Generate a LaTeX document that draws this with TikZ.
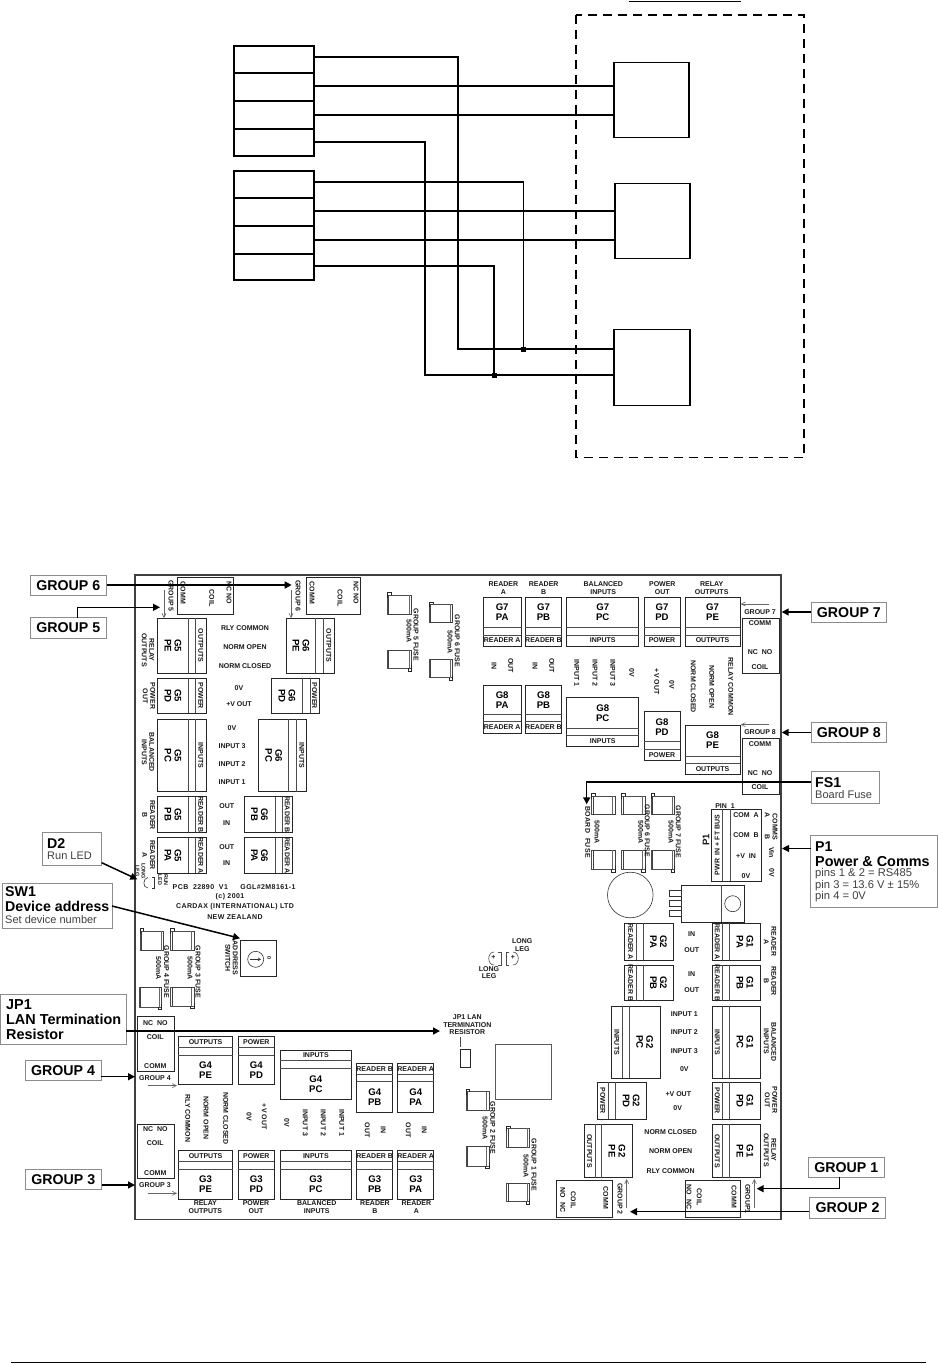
\documentclass[tikz,border=0pt]{standalone}
\usepackage{fontspec}
\setmainfont{Liberation Sans}
\newfontfamily\widefont[LetterSpace=6]{Liberation Sans}
\usetikzlibrary{arrows.meta}
\newcount\lbc
\tikzset{
  wire/.style={line width=1.1pt,black},
  wbox/.style={draw=black,line width=1.1pt,inner sep=0pt,outer sep=0pt,fill=white},
  lab/.style={inner sep=0pt,outer sep=0pt,align=center,font=\fontsize{7}{7.6}\selectfont\bfseries,text=black!90},
  rv/.style={rotate=-90},
  ru/.style={rotate=90},
  tiny/.style={font=\fontsize{5.4}{5.8}\selectfont\bfseries},
  mainlab/.style={font=\fontsize{9.6}{10}\selectfont\bfseries,text=black},
  blk/.style={draw=black!85,line width=.8pt},
  blkd/.style={draw=black!70,line width=.7pt},
  thin/.style={draw=black!60,line width=.6pt,-{Straight Barb[length=4pt,width=4pt]}},
  arr/.style={draw=black,line width=1.5pt,-{Triangle[length=7pt,width=7pt]}},
  callout/.style={draw=black!45,line width=.8pt,fill=white,inner sep=0pt,outer sep=0pt,font=\fontsize{14.2}{15}\selectfont\bfseries},
  cbig/.style={inner sep=0pt,anchor=west,font=\fontsize{14.2}{15}\selectfont\bfseries},
  creg/.style={inner sep=0pt,anchor=west,font=\fontsize{11}{12}\selectfont,text=black!75},
}
\newcommand\Lb[4][]{\global\advance\lbc by 1 \node[lab,name=t\the\lbc,#1] at (#2,#3) {#4};}
% main left, small right, rotated text
\newcommand\BlkVL[8]{\draw[blk] (#1,#2) rectangle (#3,#4);\draw[blkd] (#5,#2)--(#5,#4) (#6,#2)--(#6,#4);
  \Lb[rv,mainlab]{{(#1+#5)/2}}{{(#2+#4)/2}}{#7}\Lb[rv]{{(#6+#3)/2}}{{(#2+#4)/2}}{#8}}
% small left, main right
\newcommand\BlkVR[8]{\draw[blk] (#1,#2) rectangle (#3,#4);\draw[blkd] (#5,#2)--(#5,#4) (#6,#2)--(#6,#4);
  \Lb[rv,mainlab]{{(#6+#3)/2}}{{(#2+#4)/2}}{#7}\Lb[rv]{{(#1+#5)/2}}{{(#2+#4)/2}}{#8}}
% main top, small bottom
\newcommand\BlkHT[8]{\draw[blk] (#1,#2) rectangle (#3,#4);\draw[blkd] (#1,#5)--(#3,#5) (#1,#6)--(#3,#6);
  \Lb[mainlab]{{(#1+#3)/2}}{{(#2+#5)/2}}{#7}\Lb{{(#1+#3)/2}}{{(#6+#4)/2}}{#8}}
% small top, main bottom
\newcommand\BlkHB[8]{\draw[blk] (#1,#2) rectangle (#3,#4);\draw[blkd] (#1,#5)--(#3,#5) (#1,#6)--(#3,#6);
  \Lb[mainlab]{{(#1+#3)/2}}{{(#6+#4)/2}}{#7}\Lb{{(#1+#3)/2}}{{(#2+#5)/2}}{#8}}
\newcommand\FuseT[4]{\draw[blkd,line width=.6pt] (#1,#2) rectangle (#3,#4);
  \draw[black!75,line width=.8pt] ({#1+1.5},#2)--({#1+1.5},#4)--(#3,#4)--(#3,#2);
  \draw[black!60,line width=.5pt] ({#3-2.5},#2)--({#3-2.5},#4);
  \draw[black!85,line width=.6pt] (#1,{#2+3})--(#1,{#2-2.5})--({#1+3.5},{#2-2.5})--({#1+3.5},#2);}
\newcommand\FuseB[4]{\draw[blkd,line width=.6pt] (#1,#2) rectangle (#3,#4);
  \draw[black!75,line width=.8pt] ({#1+1.5},#4)--({#1+1.5},#2)--(#3,#2)--(#3,#4);
  \draw[black!60,line width=.5pt] ({#3-2.5},#2)--({#3-2.5},#4);
  \draw[black!85,line width=.6pt] (#3,{#4-3})--(#3,{#4+2.5})--({#3-3.5},{#4+2.5})--({#3-3.5},#4);}
\newcommand\Call[6]{\node[callout,minimum width={(#4-#2)*1pt},minimum height={(#5-#3)*1pt}] (#1) at ({(#2+#4)/2},{(#3+#5)/2}) {#6};}
\begin{document}
\begin{tikzpicture}[x=1pt,y=-1pt]
\useasboundingbox (0,0) rectangle (937,1364);
\fill[white] (0,0) rectangle (937,1364);
%% ---------- upper wiring diagram ----------
\coordinate (tl) at (629,1.5); \coordinate (tr) at (741,1.5);
\draw[line width=1.5pt] (tl)--(tr);
\draw[wire,dash pattern=on 9pt off 6pt] (576,15) rectangle (804,457.5);
\node[wbox,minimum width=80pt,minimum height=110pt] (a) at (274,101) {};
\node[wbox,minimum width=80pt,minimum height=109pt] (b) at (274,225.5) {};
\node[wbox,minimum width=75pt,minimum height=74.5pt] (ra) at (651.5,100) {};
\node[wbox,minimum width=75pt,minimum height=75pt] (rb) at (652.5,221) {};
\node[wbox,minimum width=76pt,minimum height=75.5pt] (rc) at (652,367.5) {};
\foreach \yy in {73,101,129} \draw[wire] (a.west |- 0,\yy)--(a.east |- 0,\yy);
\foreach \yy in {198,226,254} \draw[wire] (b.west |- 0,\yy)--(b.east |- 0,\yy);
\node[fill=black,minimum size=5pt,inner sep=0pt] (j1) at (523.5,349) {};
\node[fill=black,minimum size=5pt,inner sep=0pt] (j2) at (494,375) {};
\draw[wire] (a.east |- 0,57) -| (458,349) -- (rc.west |- 0,349);
\draw[wire] (a.east |- 0,86) -- (ra.west |- 0,86);
\draw[wire] (a.east |- 0,115) -- (ra.west |- 0,115);
\draw[wire] (a.east |- 0,142) -| (425,375) -- (rc.west |- 0,375);
\draw[wire] (b.east |- 0,182) -| (j1.center);
\draw[wire] (b.east |- 0,211) -- (rb.west |- 0,211);
\draw[wire] (b.east |- 0,240) -- (rb.west |- 0,240);
\draw[wire] (b.east |- 0,266) -| (j2.center);
%% ---------- board frame ----------
\draw[draw=black!75,line width=1.2pt] (135,575) rectangle (781,1219.3);
%% left column G5 / G6
\BlkVL{157.7}{618}{206}{673}{188.3}{195.7}{G5\\PE}{OUTPUTS}
\BlkVL{286}{618}{334.3}{673}{315.7}{323.3}{G6\\PE}{OUTPUTS}
\BlkVL{157.7}{678.3}{206}{713.3}{188.3}{195.7}{G5\\PD}{POWER}
\BlkVL{271.7}{678.3}{319.3}{713.3}{302.3}{310}{G6\\PD}{POWER}
\BlkVL{157.7}{719.3}{206}{791.7}{188.3}{195.7}{G5\\PC}{INPUTS}
\BlkVL{258.7}{719.3}{306.7}{791.7}{288.7}{296.7}{G6\\PC}{INPUTS}
\BlkVL{157.7}{796.7}{206}{832.3}{188.3}{195.7}{G5\\PB}{READER B}
\BlkVL{244}{796.7}{292.3}{832.3}{275}{282.3}{G6\\PB}{READER B}
\BlkVL{157.7}{837.7}{206}{873.3}{188.3}{195.7}{G5\\PA}{READER A}
\BlkVL{244}{837.7}{292.3}{873.3}{275}{282.3}{G6\\PA}{READER A}
\Lb[rv]{148}{650}{RELAY\\OUTPUTS}
\Lb[rv]{149}{696}{POWER\\OUT}
\Lb[rv]{148}{752.3}{BALANCED\\INPUTS}
\Lb[rv]{148.7}{815}{READER\\B}
\Lb[rv]{148.7}{855}{READER\\A}
\Lb{245}{628.3}{RLY COMMON}\Lb{245}{647}{NORM OPEN}\Lb{245}{666}{NORM CLOSED}
\Lb{239}{688.3}{0V}\Lb{239}{704}{+V OUT}
\Lb{232}{728.3}{0V}\Lb{232}{746}{INPUT 3}\Lb{232}{764.3}{INPUT 2}\Lb{232}{782.3}{INPUT 1}
\Lb{226.7}{806}{OUT}\Lb{226.7}{822.7}{IN}\Lb{226.7}{847}{OUT}\Lb{226.7}{863.3}{IN}
%% comm boxes top
\draw[blk] (177.7,577.3) rectangle (233.3,614.3);
\draw[blk] (306,577.3) rectangle (360,614.3);
\Lb[rv]{183}{593}{COMM}\Lb[rv]{211.7}{598}{COIL}\Lb[rv]{229}{593}{NC NO}
\Lb[rv]{312}{593}{COMM}\Lb[rv]{340}{598}{COIL}\Lb[rv]{356}{593}{NC NO}
\Lb[rv]{171}{596}{GROUP 5}\Lb[rv]{298}{596}{GROUP 6}
\coordinate (th5a) at (164,590);\coordinate (th5b) at (164,618);\draw[thin] (th5a)--(th5b);
\coordinate (th6a) at (291,590);\coordinate (th6b) at (291,618);\draw[thin] (th6a)--(th6b);
%% PCB text
\Lb{200.3}{886.7}{\widefont PCB\ \ 22890\ \ V1}\Lb{268}{886.7}{\widefont GGL\#2M8161-1}
\Lb{230}{896.5}{\widefont (c) 2001}
\Lb{235}{906.7}{\widefont CARDAX (INTERNATIONAL) LTD}\Lb{235}{917}{\widefont NEW ZEALAND}
\Lb[rv,tiny]{163}{880}{RUN\\LED}
\Lb[rv,tiny]{140.5}{871}{LONG\\LEG}
\draw[black!80,line width=.6pt] (148,877.5)..controls (143,877.5) and (142,888)..(148,888);
\draw[black!80,line width=.6pt] (152,877.5)--(154,877.5)--(154,888)--(152,888);
%% address switch
\draw[blk] (240,940) rectangle (276.7,976);
\draw[black!80,line width=.6pt] (255.7,959.3) circle (8);
\draw[black!80,line width=.6pt,-{Straight Barb[length=2.5pt,width=3pt]}] (250,959.3)--(261,959.3);
\Lb[rv,tiny]{269.3}{958}{0}
\Lb[rv]{231.5}{958}{ADDRESS\\SWITCH}
%% fuses left
\FuseT{140}{931}{163.3}{950.7}\FuseB{139}{987.7}{161.7}{1007}
\FuseT{170.7}{931}{194}{950.7}\FuseB{170.7}{987.7}{194}{1006}
\Lb[rv]{166.5}{972}{GROUP 4 FUSE}\Lb[rv]{158.5}{968}{500mA}
\Lb[rv]{198}{972}{GROUP 3 FUSE}\Lb[rv]{190}{968}{500mA}
%% fuses top centre
\FuseT{387.3}{595}{411.3}{614.3}\FuseB{387.3}{650}{411.3}{668.3}
\FuseT{429.3}{604.3}{452.7}{622.3}\FuseB{429.3}{659.3}{452.7}{677.7}
\Lb[rv]{416}{634.7}{GROUP 5 FUSE}\Lb[rv]{409}{631}{500mA}
\Lb[rv]{457.3}{641}{GROUP 6 FUSE}\Lb[rv]{450}{642}{500mA}
%% G7 / G8
\BlkHT{483.3}{597.3}{521}{646}{627.7}{635}{G7\\PA}{READER A}
\BlkHT{525.3}{597.3}{561.7}{646}{627.7}{635}{G7\\PB}{READER B}
\BlkHT{566.7}{597.3}{638.7}{646}{627.7}{635}{G7\\PC}{INPUTS}
\BlkHT{644}{597.3}{680}{646}{627.7}{635}{G7\\PD}{POWER}
\BlkHT{685}{597.3}{740}{646}{627.7}{635}{G7\\PE}{OUTPUTS}
\BlkHT{483.3}{685}{521}{733.3}{714.3}{721.7}{G8\\PA}{READER A}
\BlkHT{525.3}{685}{561.7}{733.3}{714.3}{721.7}{G8\\PB}{READER B}
\BlkHT{566.7}{697.7}{638.7}{746.7}{728.3}{735.7}{G8\\PC}{INPUTS}
\BlkHT{644}{711.7}{680}{760}{741.7}{749.3}{G8\\PD}{POWER}
\BlkHT{685}{725}{740}{774}{756}{763.3}{G8\\PE}{OUTPUTS}
\Lb{503.3}{588}{READER\\A}\Lb{543.7}{588}{READER\\B}\Lb{603.3}{588}{BALANCED\\INPUTS}
\Lb{662.3}{588}{POWER\\OUT}\Lb{711.7}{588}{RELAY\\OUTPUTS}
\Lb[rv]{494}{665.7}{IN}\Lb[rv]{510.7}{665.7}{OUT}\Lb[rv]{535}{665.7}{IN}\Lb[rv]{551.7}{665.7}{OUT}
\Lb[rv]{576.7}{673}{INPUT 1}\Lb[rv]{595}{673}{INPUT 2}\Lb[rv]{612.7}{673}{INPUT 3}\Lb[rv]{631.7}{673}{0V}
\Lb[rv]{656.7}{681.7}{+V OUT}\Lb[rv]{671.7}{685}{0V}
\Lb[rv]{693.3}{686.7}{NORM CLOSED}\Lb[rv]{711.7}{686.7}{NORM OPEN}\Lb[rv]{730.7}{686.7}{RELAY COMMON}
\draw[blk] (742.3,618.3) rectangle (779,673);
\Lb{760}{623}{COMM}\Lb{760}{651.7}{NC\ \ NO}\Lb{760}{666.7}{COIL}
\draw[blk] (742.3,738.3) rectangle (779,794.3);
\Lb{760}{744.3}{COMM}\Lb{760}{772.7}{NC\ \ NO}\Lb{760}{786.7}{COIL}
\Lb{760}{611.7}{GROUP 7}\Lb{760}{732}{GROUP 8}
\coordinate (th7a) at (769,604);\coordinate (th7b) at (740.7,604);\draw[thin] (th7a)--(th7b);
\coordinate (th8a) at (769,724.7);\coordinate (th8b) at (740.7,724.7);\draw[thin] (th8a)--(th8b);
%% board fuses
\foreach \xa/\xb in {591.7/615,621.7/645,651/674.3} {\FuseT{\xa}{796}{\xb}{814.3}\FuseB{\xa}{850}{\xb}{869.3}}
\Lb[rv]{587.7}{832}{\widefont BOARD\ \ FUSE}\Lb[rv]{597}{832}{500mA}
\Lb[rv]{647.3}{831}{GROUP 6 FUSE}\Lb[rv]{640.7}{832}{500mA}
\Lb[rv]{678.3}{832}{GROUP 7 FUSE}\Lb[rv]{671}{832}{500mA}
\draw[black!80,line width=.6pt] (630.3,895) circle (22.8);
%% regulator
\draw[blk,line width=.7pt] (681,885) rectangle (744.3,922.3);
\draw[blkd] (721,885)--(721,922.3);
\draw[black!80,line width=.6pt] (732.7,903.7) circle (8);
\foreach \yy in {890.7,900.7,910.7} \draw[black!80,line width=.6pt] (681,\yy) rectangle (669,{\yy+6});
%% P1
\draw[blk] (711.7,809.3) rectangle (761.7,881);
\draw[blkd] (722.3,809.3)--(722.3,881) (730,809.3)--(730,881);
\Lb[ru]{717.3}{845}{PWR\ \ IN + FT BUS}
\Lb[ru,font=\fontsize{9.6}{10}\selectfont\bfseries]{706}{840}{P1}
\Lb{725}{805.7}{PIN\ \ 1}
\Lb{746}{815}{COM\ \ A}\Lb{746}{835}{COM\ \ B}\Lb{746}{855.7}{+V\ \ IN}\Lb{746}{876}{0V}
\Lb[rv]{775}{827}{COMMS}\Lb[rv]{767.3}{815}{A}\Lb[rv]{767.3}{837}{B}
\Lb[rv]{771.7}{852.7}{Vin}\Lb[rv]{771.7}{872.7}{0V}
%% bottom left group
\draw[blk] (137.3,1016.7) rectangle (174,1071.7);
\Lb{155.3}{1022.7}{NC\ \ NO}\Lb{155.3}{1036.7}{COIL}\Lb{155.3}{1065.7}{COMM}
\Lb{155}{1078.3}{GROUP 4}
\coordinate (th4a) at (148,1085.7);\coordinate (th4b) at (177,1085.7);\draw[thin] (th4a)--(th4b);
\draw[blk] (137.3,1124.3) rectangle (174,1178.3);
\Lb{155.3}{1129}{NC\ \ NO}\Lb{155.3}{1143.3}{COIL}\Lb{155.3}{1173.3}{COMM}
\Lb{155}{1185}{GROUP 3}
\coordinate (th3a) at (148,1193.3);\coordinate (th3b) at (177,1193.3);\draw[thin] (th3a)--(th3b);
\BlkHB{178.3}{1036.7}{232.7}{1084.3}{1047.3}{1055}{G4\\PE}{OUTPUTS}
\BlkHB{238.3}{1036.7}{274.3}{1084.3}{1047.3}{1055}{G4\\PD}{POWER}
\BlkHB{280}{1050}{351.7}{1099.3}{1060.7}{1068.3}{G4\\PC}{INPUTS}
\BlkHB{356.7}{1063.3}{392.7}{1112.3}{1074}{1081.7}{G4\\PB}{READER B}
\BlkHB{397.7}{1063.3}{433.7}{1112.3}{1074}{1081.7}{G4\\PA}{READER A}
\BlkHB{178.3}{1150.7}{232.7}{1199}{1161.7}{1169.3}{G3\\PE}{OUTPUTS}
\BlkHB{238.3}{1150.7}{274.3}{1199}{1161.7}{1169.3}{G3\\PD}{POWER}
\BlkHB{280}{1150.7}{351.7}{1199}{1161.7}{1169.3}{G3\\PC}{INPUTS}
\BlkHB{356.7}{1150.7}{392.7}{1199}{1161.7}{1169.3}{G3\\PB}{READER B}
\BlkHB{397.7}{1150.7}{433.7}{1199}{1161.7}{1169.3}{G3\\PA}{READER A}
\Lb{205.3}{1207.3}{RELAY\\OUTPUTS}\Lb{256}{1207.3}{POWER\\OUT}\Lb{316.7}{1207.3}{BALANCED\\INPUTS}
\Lb{375}{1207.3}{READER\\B}\Lb{416.3}{1207.3}{READER\\A}
\Lb[rv]{187.7}{1118.3}{RLY COMMON}\Lb[rv]{206}{1118}{NORM OPEN}\Lb[rv]{225.7}{1118.3}{NORM CLOSED}
\Lb[rv]{249}{1116.7}{0V}\Lb[rv]{264.3}{1116.7}{+V OUT}
\Lb[rv]{286.7}{1122.7}{0V}\Lb[rv]{305.3}{1122.7}{INPUT 3}\Lb[rv]{323.3}{1122.7}{INPUT 2}\Lb[rv]{341.7}{1122.7}{INPUT 1}
\Lb[rv]{367.3}{1130}{OUT}\Lb[rv]{383.3}{1130}{IN}\Lb[rv]{408.3}{1130}{OUT}\Lb[rv]{424.3}{1130}{IN}
%% centre
\Lb{467.3}{1017.3}{JP1 LAN}\Lb{467.3}{1025}{TERMINATION}\Lb{467.3}{1032.3}{RESISTOR}
\draw[black!70,line width=.6pt] (460.7,1036.7)--(460.7,1047);
\draw[blk] (460.7,1049) rectangle (470.7,1067.7);
\draw[black!65,line width=.7pt] (495.7,1044) rectangle (551.3,1099.3);
\FuseT{466}{1091.7}{489}{1110.7}\FuseB{466}{1146.7}{489}{1166}
\FuseT{506.7}{1128.3}{529.3}{1147.7}\FuseB{506.7}{1183.3}{529.3}{1201.7}
\Lb[rv]{492.7}{1128}{GROUP 2 FUSE}\Lb[rv]{485}{1128}{500mA}
\Lb[rv]{534}{1165}{GROUP 1 FUSE}\Lb[rv]{526}{1166}{500mA}
\Lb{522.3}{945}{LONG\\LEG}\Lb{489}{972.7}{LONG\\LEG}
\draw[black!70,line width=.6pt] (494,952)..controls (487,952) and (487,965)..(494,965);
\draw[black!70,line width=.6pt] (498,952)--(501,952)--(501,965)--(498,965);
\draw[black!70,line width=.6pt] (513,952)..controls (520,952) and (520,965)..(513,965);
\draw[black!70,line width=.6pt] (509,952)--(506,952)--(506,965)--(509,965);
\Lb{493.5}{957}{+}\Lb{513}{957}{+}
%% right column G2 / G1
\BlkVR{624.3}{923.3}{673.3}{960}{636.7}{643.7}{G2\\PA}{READER A}
\BlkVR{624.3}{965}{673.3}{1000.7}{636.7}{643.7}{G2\\PB}{READER B}
\BlkVR{611.3}{1006}{660}{1078.3}{622.3}{629.3}{G2\\PC}{INPUTS}
\BlkVR{597.3}{1082.3}{646.7}{1119.3}{608.3}{615.7}{G2\\PD}{POWER}
\BlkVR{584.3}{1124.3}{632.3}{1177.7}{595}{601.7}{G2\\PE}{OUTPUTS}
\BlkVR{712.3}{923.3}{760.7}{960}{722.3}{729.3}{G1\\PA}{READER A}
\BlkVR{712.3}{965}{760.7}{1000.7}{722.3}{729.3}{G1\\PB}{READER B}
\BlkVR{712.3}{1006}{760.7}{1078.3}{722.3}{729.3}{G1\\PC}{INPUTS}
\BlkVR{712.3}{1082.3}{760.7}{1119.3}{722.3}{729.3}{G1\\PD}{POWER}
\BlkVR{712.3}{1124.3}{760.7}{1177.7}{722.3}{729.3}{G1\\PE}{OUTPUTS}
\Lb[rv]{770}{941.7}{READER\\A}\Lb[rv]{770}{981}{READER\\B}\Lb[rv]{770}{1041.7}{BALANCED\\INPUTS}
\Lb[rv]{771}{1100}{POWER\\OUT}\Lb[rv]{770}{1150}{RELAY\\OUTPUTS}
\Lb{691.7}{933.7}{IN}\Lb{691.7}{950}{OUT}\Lb{691.7}{974}{IN}\Lb{691.7}{990.3}{OUT}
\Lb{684.3}{1014}{INPUT 1}\Lb{684.3}{1032.3}{INPUT 2}\Lb{684.3}{1050.7}{INPUT 3}\Lb{684.3}{1069}{0V}
\Lb{678.3}{1094}{+V OUT}\Lb{677.7}{1108.3}{0V}
\Lb{670.7}{1131.7}{NORM CLOSED}\Lb{670.7}{1151}{NORM OPEN}\Lb{670.7}{1170.7}{RLY COMMON}
\draw[blk] (556.7,1180) rectangle (612.7,1217.7);
\Lb[rv]{605.7}{1198}{COMM}\Lb[rv]{573.3}{1200}{COIL}\Lb[rv]{562.7}{1200}{NO\ \ NC}
\Lb[rv]{620}{1199}{GROUP 2}
\coordinate (th2a) at (626.7,1208);\coordinate (th2b) at (626.7,1179);\draw[thin] (th2a)--(th2b);
\draw[blk] (685,1180) rectangle (740,1217.7);
\Lb[rv]{734}{1197}{COMM}\Lb[rv]{699.3}{1197}{COIL}\Lb[rv]{689}{1197}{NO\ \ NC}
\Lb[rv]{747.7}{1199}{GROUP1}
\coordinate (th1a) at (754.3,1208);\coordinate (th1b) at (754.3,1179);\draw[thin] (th1a)--(th1b);
%% ---------- callouts ----------
\Call{g6}{30}{575}{106.7}{595.7}{GROUP 6}
\Call{g5}{30}{617.7}{106.7}{638.3}{GROUP 5}
\Call{g7}{811}{602.3}{886.7}{622.3}{GROUP 7}
\Call{g8}{811}{722.3}{886.7}{742.7}{GROUP 8}
\Call{g4}{25}{1060.7}{101}{1080.7}{GROUP 4}
\Call{g3}{25}{1169.3}{101.5}{1189.3}{GROUP 3}
\Call{g1}{808.3}{1157.3}{884.3}{1177.3}{GROUP 1}
\Call{g2}{809.3}{1197.7}{885.7}{1218.3}{GROUP 2}
\Call{fs}{811}{771.7}{879.3}{803.7}{}
\Call{pp}{810.7}{835}{937}{907.7}{}
\Call{d2}{42.7}{832.7}{101.7}{865}{}
\Call{sw}{2.7}{883.3}{112}{928.7}{}
\Call{jp}{0.5}{994}{126}{1044}{}
\node[cbig] (fs1t) at (815,782.3) {FS1};
\node[creg] (fs2t) at (815,795) {Board Fuse};
\node[cbig] (p1t) at (815,846.5) {P1};
\node[cbig,font=\fontsize{14.4}{15}\selectfont\bfseries] (p2t) at (815,861.5) {Power \& Comms};
\node[creg,font=\fontsize{11.2}{12}\selectfont] (p3t) at (815,873.5) {pins 1 \& 2 = RS485};
\node[creg,font=\fontsize{11.2}{12}\selectfont] (p4t) at (815,885.5) {pin 3 = 13.6 V ± 15\%};
\node[creg,font=\fontsize{11.2}{12}\selectfont] (p5t) at (815,897) {pin 4 = 0V};
\node[cbig] (d21) at (47,843.5) {D2};
\node[creg] (d22) at (47,855.5) {Run LED};
\node[cbig] (sw1) at (5,891.5) {SW1};
\node[cbig] (sw2) at (5,906.5) {Device address};
\node[creg] (sw3) at (5,919.5) {Set device number};
\node[cbig,font=\fontsize{14.4}{16}\selectfont\bfseries] (jp1) at (6,1005) {JP1};
\node[cbig,font=\fontsize{14.4}{16}\selectfont\bfseries] (jp2) at (6,1019) {LAN Termination};
\node[cbig,font=\fontsize{14.4}{16}\selectfont\bfseries] (jp3) at (6,1034) {Resistor};
%% ---------- callout arrows ----------
\coordinate (e6) at (291.7,585);
\draw[arr] (g6.east |- e6)--(e6);
\coordinate (e5) at (160,607.3);
\draw[arr] (77.3,617.7 |- g5.north) |- (e5);
\coordinate (e7) at (781.7,612);
\draw[arr] (g7.west |- e7)--(e7);
\coordinate (e8) at (781.7,732.5);
\draw[arr] (g8.west |- e8)--(e8);
\coordinate (e4) at (135,1076.7);
\draw[arr] (g4.east |- e4)--(e4);
\coordinate (e3) at (135,1185);
\draw[arr] (g3.east |- e3)--(e3);
\coordinate (e1) at (756.7,1188.7);
\draw[arr] (839.3,1177.3 |- g1.south) |- (e1);
\coordinate (e2) at (630,1211.7);
\draw[arr] (g2.west |- e2)--(e2);
\coordinate (efs) at (586.7,804.3);
\draw[arr] (fs.west |- 0,782) -| (efs);
\coordinate (ep) at (782,848.5);
\draw[arr,line width=1pt] (pp.west |- ep)--(ep);
\coordinate (ed) at (137.3,879.3);
\draw[arr] (d2.east |- 0,862.7)--(ed);
\coordinate (es) at (240,938.3);
\draw[arr] (sw.east |- 0,906)--(es);
\coordinate (ej) at (440,1031);
\draw[arr] (jp.east |- ej)--(ej);
%% page rule
\coordinate (ra1) at (11,1362.5);\coordinate (ra2) at (926,1362.5);
\draw[line width=1.2pt] (ra1)--(ra2);
\end{tikzpicture}
\end{document}
